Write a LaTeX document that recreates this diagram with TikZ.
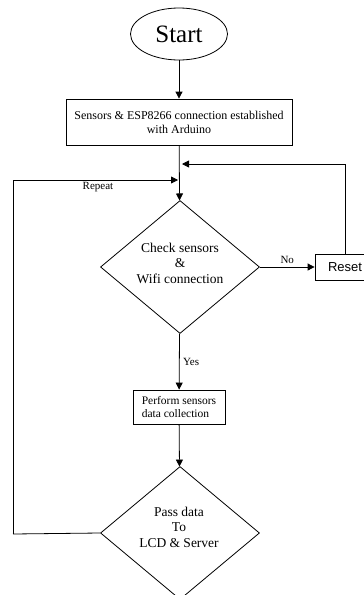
\documentclass[tikz,border=0pt]{standalone}
\usepackage{fontspec}
\setmainfont{Liberation Serif}
\newfontfamily\resetfont{Liberation Sans}
\usetikzlibrary{shapes.geometric, arrows.meta}

\tikzset{
    proceso/.style={draw, rectangle, line width=0.8pt, inner sep=0pt},
    decision/.style={draw, diamond, line width=0.8pt, inner sep=0pt,
        minimum width=159pt, minimum height=133pt},
    textodec/.style={align=center, font=\fontsize{13.5}{15.5}\selectfont},
    flecha/.style={line width=0.8pt, -{Triangle[length=7pt, width=7pt]}},
    linea/.style={line width=0.8pt},
    etiqueta/.style={font=\fontsize{11}{13}\selectfont}
}

\begin{document}
\begin{tikzpicture}[x=1pt, y=-1pt]
    % Marco
    \useasboundingbox (0,0) rectangle (364,595);
    \clip (0,0) rectangle (364,595);

    % Inicio
    \node[draw, ellipse, line width=0.8pt, minimum width=97pt, minimum height=52pt,
        inner sep=0pt, font=\fontsize{25}{28}\selectfont] (start) at (179,34) {Start};

    % Conexion
    \node[proceso, minimum width=226pt, minimum height=46pt, align=center,
        font=\fontsize{12}{14}\selectfont] (conn) at (179,122)
        {Sensors \& ESP8266 connection established\\with Arduino};

    % Revisar sensores
    \node[decision] (chk) at (180,267) {};
    \node[textodec] (chktxt) at (180,263) {Check sensors\\\&\\Wifi connection};

    % Reset
    \node[proceso, minimum width=60pt, minimum height=26pt,
        font=\resetfont\fontsize{13}{15}\selectfont] (reset) at (345,267) {Reset};

    % Recoleccion de datos
    \node[proceso, minimum width=92pt, minimum height=34pt, align=left,
        font=\fontsize{11.5}{13.5}\selectfont] (collect) at (179,407)
        {Perform sensors\\data collection};

    % Enviar datos
    \node[decision] (pass) at (180,533) {};
    \node[textodec] (passtxt) at (179,527) {Pass data\\To\\LCD \& Server};

    % Puntos de union
    \coordinate (jn1) at (182,164);
    \coordinate (jn2) at (178,180);
    \coordinate (left) at (13,534);

    % Flechas
    \draw[flecha] (start) -- (conn);
    \draw[flecha] (conn) -- (chk);
    \draw[flecha] (chk.east) -- node[etiqueta, above] {No} (reset.west);
    \draw[flecha] (chk) -- node[etiqueta, right, pos=0.5] {Yes} (collect);
    \draw[flecha] (collect) -- (pass);

    % Lazo de reset
    \draw[flecha] (reset.north) |- (jn1);

    % Lazo de repetir
    \draw[linea] (pass.west) -- (left);
    \draw[flecha] (left) |- (jn2);
    \node[etiqueta] (repeat) at (98,187) {Repeat};
\end{tikzpicture}
\end{document}
